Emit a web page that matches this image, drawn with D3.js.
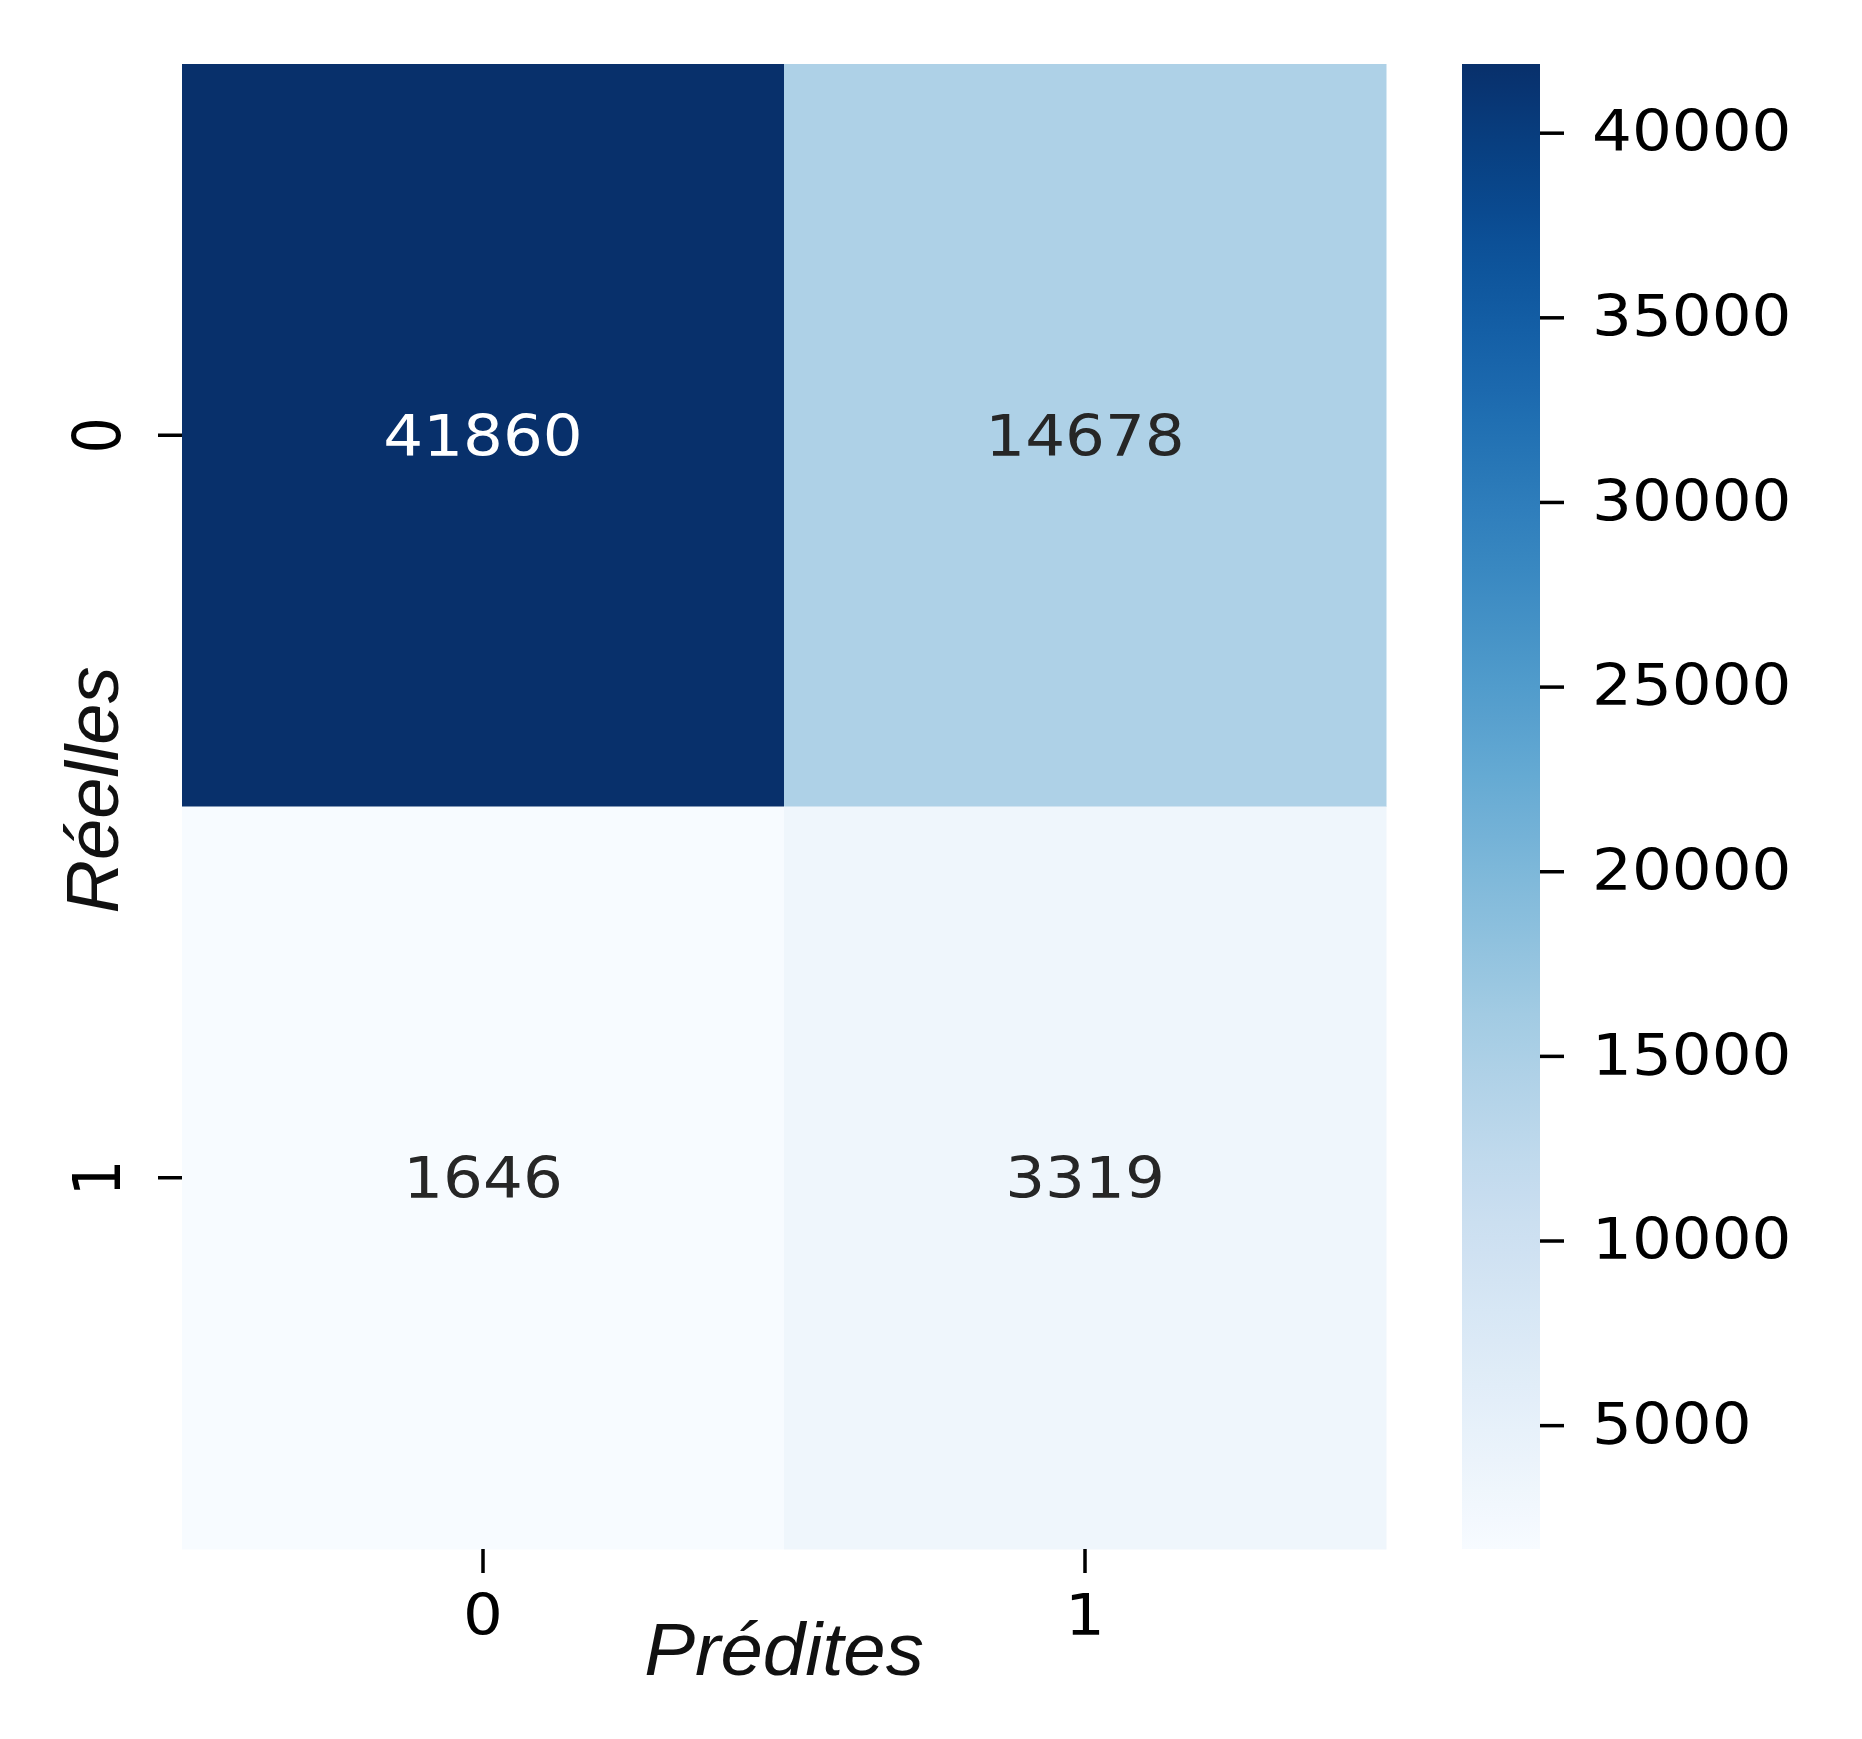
<!DOCTYPE html>
<html>
<head>
<meta charset="utf-8">
<script src="https://cdn.jsdelivr.net/npm/d3@7"></script>
<style>
  body { margin: 0; background: #fff; }
  .tick text { font-family: "DejaVu Sans", sans-serif; }
</style>
</head>
<body>
<div id="chart"></div>
<script>
var actual = ["0", "1"];
var predicted = ["0", "1"];
var counts = [
  [41860, 14678],
  [1646, 3319]
];
var cbarTicks = [5000, 10000, 15000, 20000, 25000, 30000, 35000, 40000];

var svgWidth = 1862;
var svgHeight = 1739;

var heat = { left: 182, right: 1386, top: 64, bottom: 1549 };
var cbar = { left: 1462, right: 1540 };
var stretch = 1.1;

var svg = d3.select("#chart")
  .append("svg")
  .attr("width", svgWidth)
  .attr("height", svgHeight);

var cells = [];
counts.forEach(function(row, i) {
  row.forEach(function(v, j) {
    cells.push({ row: actual[i], col: predicted[j], value: v });
  });
});

var vmin = d3.min(cells, d => d.value);
var vmax = d3.max(cells, d => d.value);

var xScale = d3.scaleBand().domain(predicted).range([heat.left, heat.right]);
var yScale = d3.scaleBand().domain(actual).range([heat.top, heat.bottom]);
var color = d3.scaleSequential(d3.interpolateBlues).domain([vmin, vmax]);

// cells
svg.selectAll("rect.cell")
  .data(cells)
  .enter()
  .append("rect")
  .attr("class", "cell")
  .attr("x", d => xScale(d.col))
  .attr("y", d => yScale(d.row))
  .attr("width", xScale.bandwidth() + 0.5)
  .attr("height", yScale.bandwidth() + 0.5)
  .attr("fill", d => color(d.value));

// annotations
svg.selectAll("text.annot")
  .data(cells)
  .enter()
  .append("text")
  .attr("class", "annot")
  .attr("transform", d => `translate(${xScale(d.col) + xScale.bandwidth() / 2}, ${yScale(d.row) + yScale.bandwidth() / 2}) scale(${stretch}, 1)`)
  .attr("dy", "0.36em")
  .attr("text-anchor", "middle")
  .style("font-family", "DejaVu Sans, sans-serif")
  .style("font-size", "57px")
  .attr("fill", d => d3.lab(color(d.value)).l < 55 ? "#ffffff" : "#262626")
  .text(d => d.value);

// x axis
var xAxis = svg.append("g")
  .attr("transform", `translate(0, ${heat.bottom})`)
  .call(d3.axisBottom(xScale).tickSize(24).tickPadding(22));
xAxis.select(".domain").remove();
xAxis.selectAll(".tick line").attr("stroke", "#000").attr("stroke-width", 3.5);
xAxis.selectAll(".tick text")
  .style("font-size", "57px")
  .attr("fill", "#000")
  .attr("transform", `scale(${stretch}, 1)`);

// y axis
var yAxis = svg.append("g")
  .attr("transform", `translate(${heat.left}, 0)`)
  .call(d3.axisLeft(yScale).tickSize(24));
yAxis.select(".domain").remove();
yAxis.selectAll(".tick line").attr("stroke", "#000").attr("stroke-width", 3.5);
yAxis.selectAll(".tick text")
  .style("font-size", "57px")
  .attr("fill", "#000")
  .attr("x", 0)
  .attr("dy", "0.36em")
  .attr("text-anchor", "middle")
  .attr("transform", "translate(-86, 0) scale(1.17, 1) rotate(-90)");

// colorbar
var cScale = d3.scaleLinear().domain([vmin, vmax]).range([heat.bottom, heat.top]);

var grad = svg.append("defs").append("linearGradient")
  .attr("id", "cbar-grad")
  .attr("x1", "0").attr("y1", "1").attr("x2", "0").attr("y2", "0");
d3.range(0, 1.0001, 0.02).forEach(function(t) {
  grad.append("stop")
    .attr("offset", t)
    .attr("stop-color", d3.interpolateBlues(t));
});

svg.append("rect")
  .attr("x", cbar.left)
  .attr("y", cScale(vmax))
  .attr("width", cbar.right - cbar.left)
  .attr("height", cScale(vmin) - cScale(vmax))
  .attr("fill", "url(#cbar-grad)");

var cAxis = svg.append("g")
  .attr("transform", `translate(${cbar.right}, 0)`)
  .call(d3.axisRight(cScale).tickValues(cbarTicks).tickFormat(d3.format("d")).tickSize(24).tickPadding(28));
cAxis.select(".domain").remove();
cAxis.selectAll(".tick line").attr("stroke", "#000").attr("stroke-width", 3.5);
cAxis.selectAll(".tick text")
  .style("font-size", "57px")
  .attr("fill", "#000")
  .attr("x", 0)
  .attr("transform", `translate(52, 0) scale(${stretch}, 1)`);

// axis titles
svg.append("text")
  .attr("transform", `translate(${(heat.left + heat.right) / 2}, 1675) scale(1.03, 1)`)
  .attr("text-anchor", "middle")
  .style("font-family", "Liberation Sans, Arial, sans-serif")
  .style("font-style", "italic")
  .style("font-size", "74px")
  .attr("fill", "#111")
  .text("Prédites");

svg.append("text")
  .attr("transform", "translate(118, 790) rotate(-90)")
  .attr("text-anchor", "middle")
  .style("font-family", "Liberation Sans, Arial, sans-serif")
  .style("font-style", "italic")
  .style("font-size", "74px")
  .attr("fill", "#111")
  .text("Réelles");
</script>
</body>
</html>
